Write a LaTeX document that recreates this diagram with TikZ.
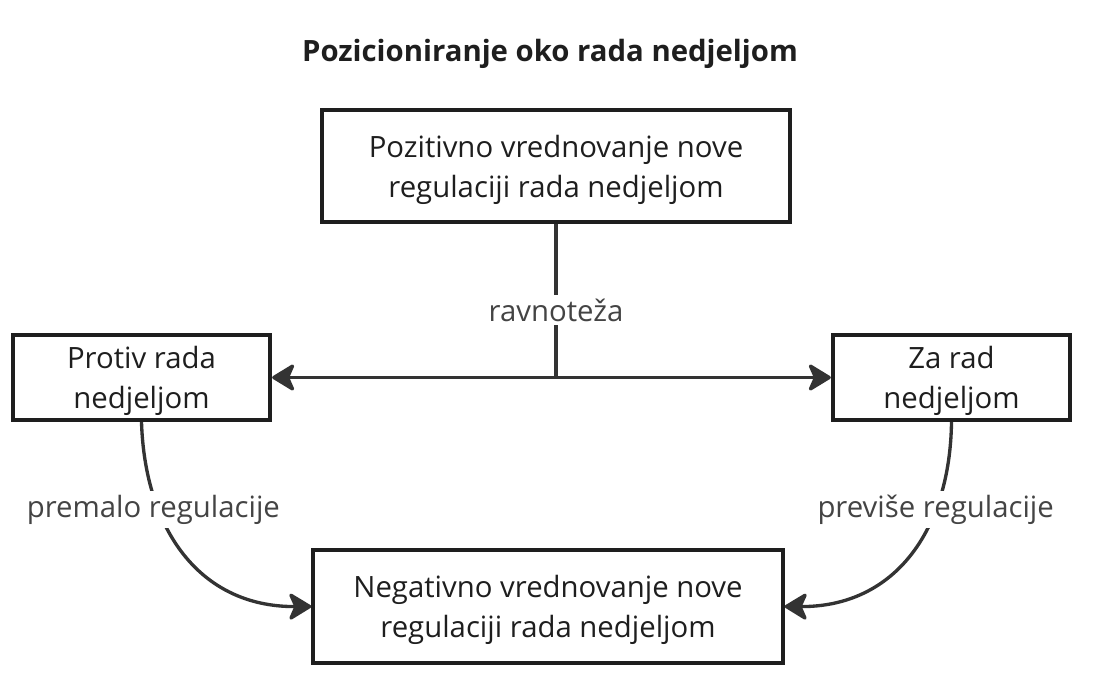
\documentclass[tikz,border=0pt]{standalone}
\usepackage{fontspec}
\setmainfont{Open Sans}
\usetikzlibrary{arrows.meta,positioning,calc}

\definecolor{inkdark}{HTML}{1E1E1E}
\definecolor{linedark}{HTML}{333333}
\definecolor{labelgray}{HTML}{444444}

\tikzset{
  box/.style={draw=inkdark, line width=3pt, align=center, text=inkdark,
    font=\fontsize{22}{30}\selectfont, inner sep=0pt, text depth=0pt},
  conn/.style={draw=linedark, line width=2.5pt,
    -{Stealth[length=19pt,width=23pt,inset=5pt,round]}},
  lbl/.style={fill=white, text=labelgray, font=\fontsize{22}{26}\selectfont, inner sep=3pt}
}

\begin{document}
\begin{tikzpicture}[x=0.75pt,y=-0.75pt]
 \useasboundingbox (0,0) rectangle (1103,699);

    % title
    \node (title) at (550,54) [font=\bfseries\fontsize{22}{26}\selectfont, text=inkdark] {Pozicioniranje oko rada nedjeljom};

    % draw boxes
    \node (pos) at (556,166) [box, minimum width=351pt, minimum height=84pt] {Pozitivno vrednovanje nove\\regulaciji rada nedjeljom};
    \node (protiv) at (141.5,377.5) [box, minimum width=193pt, minimum height=64pt] {Protiv rada\\nedjeljom};
    \node (za) at (951.5,377.5) [box, minimum width=178pt, minimum height=64pt] {Za rad\\nedjeljom};
    \node (neg) at (548,606.5) [box, minimum width=352pt, minimum height=85pt] {Negativno vrednovanje nove\\regulaciji rada nedjeljom};

    % balance line
    \coordinate (junc) at (pos.south |- protiv.east);
    \draw[conn, -] (pos.south) -- (junc) node[lbl, pos=0.56] {ravnoteža};
    \draw[conn, {Stealth[length=19pt,width=23pt,inset=5pt,round]}-{Stealth[length=19pt,width=23pt,inset=5pt,round]}] (protiv.east) -- (za.west);

    % curved arrows to the bottom box
    \draw[conn] (protiv.south) .. controls (145,530) and (200,607) .. (neg.west) node[lbl, pos=0.3, xshift=-4pt] {premalo regulacije};
    \draw[conn] (za.south) .. controls (950,530) and (895,607) .. (neg.east) node[lbl, pos=0.3] {previše regulacije};
\end{tikzpicture}
\end{document}
